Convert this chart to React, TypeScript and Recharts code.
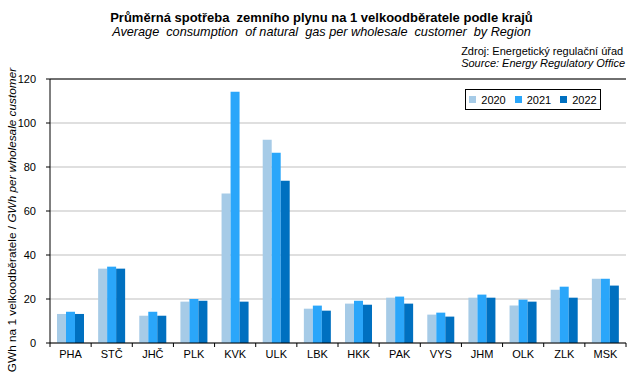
import React from "react";
import {
  BarChart,
  Bar,
  XAxis,
  YAxis,
  CartesianGrid,
  ReferenceLine,
} from "recharts";

const regions = ["PHA", "STČ", "JHČ", "PLK", "KVK", "ULK", "LBK", "HKK", "PAK", "VYS", "JHM", "OLK", "ZLK", "MSK"];
const y2020 = [13.2, 33.8, 12.4, 18.8, 67.9, 92.4, 15.6, 17.9, 20.6, 12.9, 20.6, 17.0, 24.2, 29.2];
const y2021 = [14.2, 34.7, 14.2, 20.0, 114.2, 86.5, 17.0, 19.2, 21.1, 13.8, 22.0, 19.7, 25.6, 29.2];
const y2022 = [13.2, 33.8, 12.4, 19.2, 18.8, 73.8, 14.7, 17.4, 17.9, 12.0, 20.6, 18.8, 20.6, 26.1];
const yTicks = [0, 20, 40, 60, 80, 100, 120];

const series = [
  { key: "2020", color: "#a6cbe7" },
  { key: "2021", color: "#2aa6fa" },
  { key: "2022", color: "#0070c0" },
];

const data = regions.map((r, i) => ({
  region: r,
  "2020": y2020[i],
  "2021": y2021[i],
  "2022": y2022[i],
}));

const font = "'Liberation Sans', Arial, sans-serif";
const W = 643;
const H = 379;
const band = (W - 50 - 17) / regions.length;

function RegionTick(props: any) {
  const { x, y, payload, index } = props;
  const off = payload && payload.offset ? payload.offset : band / 2;
  const last = index === regions.length - 1;
  return (
    <g>
      <line x1={x - off} y1={y} x2={x - off} y2={y + 4} stroke="#000" />
      {last && <line x1={x + off} y1={y} x2={x + off} y2={y + 4} stroke="#000" />}
      <text x={x} y={y + 15} textAnchor="middle" fontSize={11} fontFamily={font} fill="#000">
        {payload.value}
      </text>
    </g>
  );
}

function LegendBox() {
  return (
    <div
      style={{
        position: "absolute",
        left: 465,
        top: 89,
        border: "1px solid #000",
        width: 134,
        height: 19,
        display: "flex",
        alignItems: "center",
        justifyContent: "center",
        gap: 9,
        fontSize: 11,
        background: "#fff",
      }}
    >
      {series.map((s) => (
        <span key={s.key} style={{ display: "flex", alignItems: "center" }}>
          <span style={{ width: 7, height: 7, background: s.color, marginRight: 5 }} />
          {s.key}
        </span>
      ))}
    </div>
  );
}

export default function App() {
  return (
    <div style={{ position: "absolute", left: 0, top: 0, width: W, height: H, background: "#fff", fontFamily: font }}>
      <div style={{ position: "absolute", left: 0, width: W, top: 10, textAlign: "center", fontWeight: "bold", fontSize: 13 }}>
        Průměrná spotřeba&nbsp; zemního plynu na 1 velkoodběratele podle krajů
      </div>
      <div style={{ position: "absolute", left: 0, width: W, top: 25, textAlign: "center", fontStyle: "italic", fontSize: 12.7 }}>
        Average&nbsp; consumption&nbsp; of natural&nbsp; gas per wholesale&nbsp; customer&nbsp; by Region
      </div>
      <div style={{ position: "absolute", right: 18, top: 45, textAlign: "left", fontSize: 11, lineHeight: "12px" }}>
        <div>Zdroj: Energetický regulační úřad</div>
        <div style={{ fontStyle: "italic" }}>Source: Energy Regulatory Office</div>
      </div>
      <div
        style={{
          position: "absolute",
          left: 12,
          top: 220,
          transform: "translate(-50%, -50%) rotate(-90deg)",
          whiteSpace: "nowrap",
          fontSize: 11.8,
        }}
      >
        GWh na 1 velkoodběratele / <i>GWh per wholesale customer</i>
      </div>
      <BarChart
        width={W}
        height={H}
        data={data}
        margin={{ top: 79, right: 17, bottom: 6, left: 0 }}
        barCategoryGap="17%"
        barGap={0}
        style={{ position: "absolute", left: 0, top: 0 }}
      >
        <CartesianGrid vertical={false} stroke="#bfbfbf" />
        <XAxis
          dataKey="region"
          interval={0}
          height={30}
          tickLine={false}
          tickSize={0}
          tickMargin={0}
          axisLine={{ stroke: "#000" }}
          tick={<RegionTick />}
        />
        <YAxis
          width={50}
          domain={[0, 120]}
          ticks={yTicks}
          interval={0}
          tickSize={4}
          tickMargin={10}
          axisLine={{ stroke: "#000" }}
          tickLine={{ stroke: "#000" }}
          tick={{ fontSize: 11, fill: "#000", fontFamily: font }}
        />
        <YAxis yAxisId="r" orientation="right" width={0} domain={[0, 120]} tick={false} tickLine={false} axisLine={{ stroke: "#000" }} />
        <ReferenceLine y={120} stroke="#000" />
        {series.map((s) => (
          <Bar key={s.key} dataKey={s.key} fill={s.color} isAnimationActive={false} />
        ))}
      </BarChart>
      <LegendBox />
    </div>
  );
}
